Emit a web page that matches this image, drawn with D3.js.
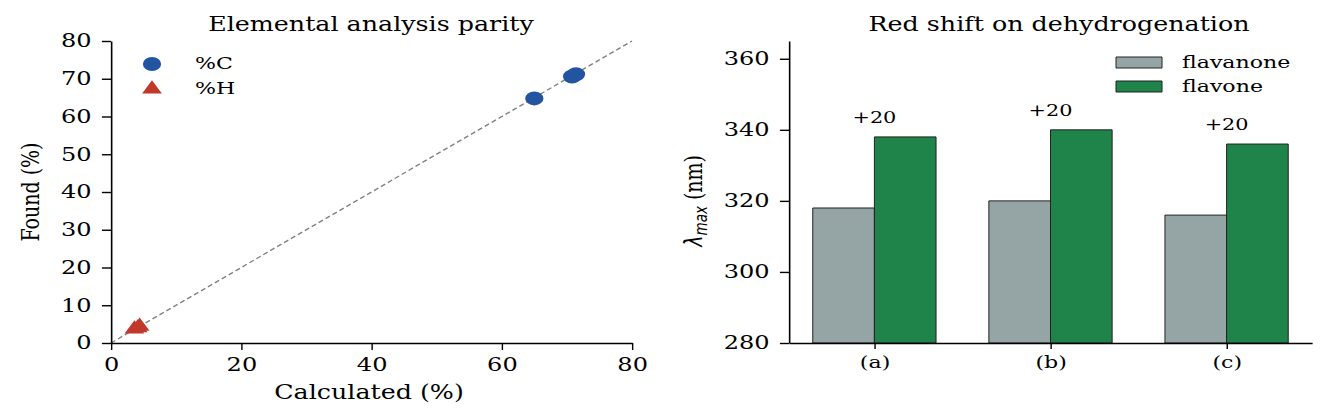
<!DOCTYPE html>
<html>
<head>
<meta charset="utf-8">
<script src="https://cdn.jsdelivr.net/npm/d3@7"></script>
<style>
  body { margin: 0; background: #fff; }
  svg { display: block; }
  path, line, rect, circle { vector-effect: non-scaling-stroke; }
</style>
</head>
<body>
<svg id="chart"></svg>
<script>
// Parity plot data (calculated vs found, %)
const cCalc  = [65.0, 70.8, 71.4];
const cFound = [64.8, 70.6, 71.2];
const hCalc  = [3.6, 4.1, 4.4];
const hFound = [3.7, 4.0, 4.4];
const parityXTicks = [0, 20, 40, 60, 80];
const parityYTicks = [0, 10, 20, 30, 40, 50, 60, 70, 80];

// Absorption maxima (nm)
const samples   = ["(a)", "(b)", "(c)"];
const flavanone = [318, 320, 316];
const flavone   = [338, 340, 336];
const lambdaTicks = [280, 300, 320, 340, 360];

// The whole figure is drawn in a narrower space and stretched sideways
const S = 1.3;
const W = 1332, H = 417;
const X = px => px / S;   // page pixel -> drawing unit

const serif = "DejaVu Serif";

let svg = d3.select("#chart")
  .attr("width", W)
  .attr("height", H)
  .attr("viewBox", "0 0 " + X(W) + " " + H)
  .attr("preserveAspectRatio", "none");

function styleAxis(g, size) {
  g.select(".domain").attr("stroke", "#000").attr("stroke-width", 1.6);
  g.selectAll(".tick line").attr("stroke", "#000").attr("stroke-width", 1.4);
  g.selectAll(".tick text")
    .attr("fill", "#000")
    .attr("font-family", serif)
    .attr("font-size", size);
}

// ---------------- left panel: elemental analysis parity ----------------
let xP = d3.scaleLinear().domain([0, 80]).range([X(111), X(632)]);
let yP = d3.scaleLinear().domain([0, 80]).range([343, 41]);

let left = svg.append("g");

// y = x reference line
left.append("line")
  .attr("x1", xP(0)).attr("y1", yP(0))
  .attr("x2", xP(80)).attr("y2", yP(80))
  .attr("stroke", "#808080")
  .attr("stroke-width", 1.4)
  .attr("stroke-dasharray", "5,3");

left.append("g")
  .attr("transform", "translate(0," + yP(0) + ")")
  .call(d3.axisBottom(xP).tickValues(parityXTicks).tickSize(7).tickSizeOuter(0).tickPadding(8))
  .call(g => styleAxis(g, 18.5));

left.append("g")
  .attr("transform", "translate(" + xP(0) + ",0)")
  .call(d3.axisLeft(yP).tickValues(parityYTicks).tickSize(7).tickSizeOuter(0).tickPadding(8))
  .call(g => styleAxis(g, 18.5));

const blue = "#2354a1", red = "#c0392b";
let tri = d3.symbol().type(d3.symbolTriangle).size(100);

left.append("g").selectAll("circle")
  .data(d3.zip(cCalc, cFound))
  .join("circle")
  .attr("cx", d => xP(d[0]))
  .attr("cy", d => yP(d[1]))
  .attr("r", 7)
  .attr("fill", blue);

left.append("g").selectAll("path")
  .data(d3.zip(hCalc, hFound))
  .join("path")
  .attr("d", tri)
  .attr("transform", d => "translate(" + xP(d[0]) + "," + yP(d[1]) + ")")
  .attr("fill", red);

// legend
let legL = left.append("g");
legL.append("circle").attr("cx", X(152)).attr("cy", 64).attr("r", 7).attr("fill", blue);
legL.append("path").attr("d", tri).attr("transform", "translate(" + X(152) + ",89)").attr("fill", red);
legL.append("text").attr("x", X(195)).attr("y", 69).text("%C");
legL.append("text").attr("x", X(195)).attr("y", 94).text("%H");
legL.selectAll("text").attr("font-family", serif).attr("font-size", 17).attr("fill", "#000");

left.append("text")
  .attr("x", X(371)).attr("y", 31)
  .attr("text-anchor", "middle")
  .attr("font-family", serif).attr("font-size", 19.5)
  .text("Elemental analysis parity");

left.append("text")
  .attr("x", X(369)).attr("y", 399)
  .attr("text-anchor", "middle")
  .attr("font-family", serif).attr("font-size", 19.5)
  .text("Calculated (%)");

left.append("text")
  .attr("transform", "translate(" + X(39) + "," + yP(40) + ") rotate(-90)")
  .attr("text-anchor", "middle")
  .attr("font-family", serif).attr("font-size", 19)
  .text("Found (%)");

// ---------------- right panel: red shift on dehydrogenation ----------------
let xB = d3.scalePoint().domain(samples).range([X(789), X(1312)]).padding(0.485);
let yB = d3.scaleLinear().domain([280, 365]).range([343, 41]);
let barW = xB.step() * 0.35;

let right = svg.append("g");

const grey = "#95a5a6", green = "#1e8449";

right.append("g").selectAll("rect")
  .data(samples)
  .join("rect")
  .attr("x", d => xB(d) - barW)
  .attr("y", (d, i) => yB(flavanone[i]))
  .attr("width", barW)
  .attr("height", (d, i) => yB(280) - yB(flavanone[i]))
  .attr("fill", grey)
  .attr("stroke", "#222").attr("stroke-width", 1);

right.append("g").selectAll("rect")
  .data(samples)
  .join("rect")
  .attr("x", d => xB(d))
  .attr("y", (d, i) => yB(flavone[i]))
  .attr("width", barW)
  .attr("height", (d, i) => yB(280) - yB(flavone[i]))
  .attr("fill", green)
  .attr("stroke", "#222").attr("stroke-width", 1);

// shift labels
right.append("g").selectAll("text")
  .data(samples)
  .join("text")
  .attr("x", d => xB(d))
  .attr("y", (d, i) => yB(flavone[i] + 4))
  .attr("text-anchor", "middle")
  .attr("font-family", serif).attr("font-size", 16)
  .text((d, i) => "+" + (flavone[i] - flavanone[i]));

right.append("g")
  .attr("transform", "translate(0," + yB(280) + ")")
  .call(d3.axisBottom(xB).tickSize(6).tickSizeOuter(0).tickPadding(7))
  .call(g => styleAxis(g, 17));

right.append("g")
  .attr("transform", "translate(" + X(789) + ",0)")
  .call(d3.axisLeft(yB).tickValues(lambdaTicks).tickSize(7).tickSizeOuter(0).tickPadding(8))
  .call(g => styleAxis(g, 18.5));

// legend
let legR = right.append("g");
legR.append("rect").attr("x", X(1116)).attr("y", 57).attr("width", X(1162) - X(1116)).attr("height", 11)
  .attr("fill", grey).attr("stroke", "#222").attr("stroke-width", 1);
legR.append("rect").attr("x", X(1116)).attr("y", 81).attr("width", X(1162) - X(1116)).attr("height", 11)
  .attr("fill", green).attr("stroke", "#222").attr("stroke-width", 1);
legR.append("text").attr("x", X(1182)).attr("y", 68).text("flavanone");
legR.append("text").attr("x", X(1182)).attr("y", 92).text("flavone");
legR.selectAll("text").attr("font-family", serif).attr("font-size", 17).attr("fill", "#000");

right.append("text")
  .attr("x", X(1059)).attr("y", 31)
  .attr("text-anchor", "middle")
  .attr("font-family", serif).attr("font-size", 19.5)
  .text("Red shift on dehydrogenation");

let yl = right.append("text")
  .attr("transform", "translate(" + X(702) + "," + yB(320) + ") rotate(-90)")
  .attr("text-anchor", "middle")
  .attr("font-family", serif).attr("font-size", 19);
yl.append("tspan").attr("font-family", "DejaVu Sans").attr("font-style", "italic").text("λ");
yl.append("tspan").attr("font-family", "DejaVu Sans").attr("font-style", "italic")
  .attr("font-size", 13.5).attr("dy", 4).text("max");
yl.append("tspan").attr("dy", -4).text(" (nm)");
</script>
</body>
</html>
